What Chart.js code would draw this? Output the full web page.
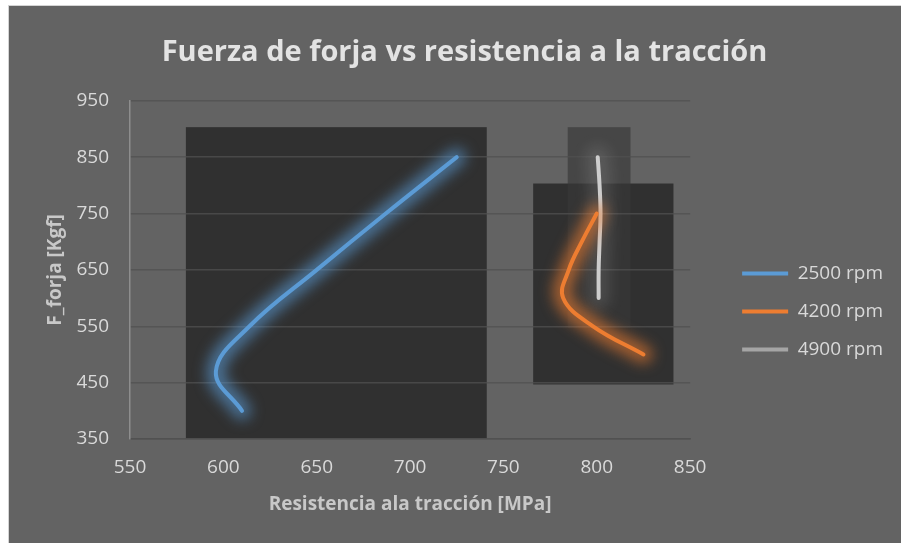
<!DOCTYPE html>
<html>
<head>
<meta charset="utf-8">
<script src="https://cdn.jsdelivr.net/npm/chart.js@4.4.0/dist/chart.umd.min.js"></script>
<style>
    body { margin: 0; background: #ffffff; }
    #wrap {
        position: absolute; left: 8px; top: 5px;
        width: 892px; height: 537px;
        background: #636363;
        border-left: 1px solid #d4d4d4; border-top: 1px solid #d4d4d4;
    }
</style>
</head>
<body>
<div id="wrap"><canvas id="forja" width="892" height="537"></canvas></div>
<script>
(function () {
    'use strict';

    // Resistencia a la traccion [MPa] (x) vs fuerza de forja [Kgf] (y)
    var rpm2500X = [610, 596, 614, 650, 687, 725];
    var rpm2500Y = [400, 470, 550, 650, 750, 850];

    var rpm4200X = [825, 798, 782, 785, 792, 800];
    var rpm4200Y = [500, 550, 600, 650, 700, 750];

    var rpm4900X = [801, 801, 801.5, 802, 801.5, 800.5];
    var rpm4900Y = [600, 650, 700, 750, 800, 850];

    var seriesNames = ['2500 rpm', '4200 rpm', '4900 rpm'];
    var xTicks = [550, 600, 650, 700, 750, 800, 850];
    var yTicks = [350, 450, 550, 650, 750, 850, 950];

    var lineColors = ['#5b9bd5', '#ed7d31', '#cdcdcd'];
    var legendColors = ['#5b9bd5', '#ed7d31', '#a5a5a5'];
    var glowColors = ['rgba(91,155,213,0.62)', 'rgba(237,125,49,0.62)', 'rgba(230,230,230,0.13)'];
    var glowWidths = [18, 18, 22];
    var boxColors = ['#303030', '#303030', 'rgba(57,57,57,0.67)'];

    var textColor = '#d9d9d9';
    var font = '"Open Sans", "DejaVu Sans", sans-serif';

    var legendShift = {x: 33, y: 37};
    var titleShift = 30;

    function points(xs, ys) {
        return xs.map(function (x, i) { return {x: x, y: ys[i]}; });
    }

    // dark box behind each series, padded around its points
    var seriesBoxes = {
        id: 'seriesBoxes',
        beforeDraw: function (chart) {
            var ctx = chart.ctx;
            var pad = 30;
            ctx.save();
            chart.data.datasets.forEach(function (ds, i) {
                var pts = chart.getDatasetMeta(i).data;
                var xs = pts.map(function (p) { return p.x; });
                var ys = pts.map(function (p) { return p.y; });
                var left = Math.min.apply(null, xs) - pad;
                var right = Math.max.apply(null, xs) + pad;
                var top = Math.min.apply(null, ys) - pad;
                var bottom = Math.min(Math.max.apply(null, ys) + pad, chart.chartArea.bottom);
                ctx.fillStyle = boxColors[i];
                ctx.fillRect(left, top, right - left, bottom - top);
            });
            ctx.restore();
        }
    };

    // soft glow: a blurred wide stroke under every line
    var lineGlow = {
        id: 'lineGlow',
        beforeDatasetDraw: function (chart, args) {
            var ctx = chart.ctx;
            var line = args.meta.dataset;
            ctx.save();
            ctx.filter = 'blur(7px)';
            ctx.strokeStyle = glowColors[args.index];
            ctx.lineWidth = glowWidths[args.index];
            ctx.lineCap = 'round';
            ctx.lineJoin = 'round';
            ctx.beginPath();
            line.path(ctx);
            ctx.stroke();
            ctx.restore();
        }
    };

    // legend and title nudged from their default spots
    var blockOffset = {
        id: 'blockOffset',
        afterLayout: function (chart) {
            var lg = chart.legend;
            lg.left += legendShift.x;
            lg.right += legendShift.x;
            lg.top += legendShift.y;
            lg.bottom += legendShift.y;
            chart.titleBlock.left += titleShift;
            chart.titleBlock.right += titleShift;
        }
    };

    var datasets = [
        points(rpm2500X, rpm2500Y),
        points(rpm4200X, rpm4200Y),
        points(rpm4900X, rpm4900Y)
    ].map(function (data, i) {
        return {
            label: seriesNames[i],
            data: data,
            showLine: true,
            borderColor: lineColors[i],
            backgroundColor: legendColors[i],
            borderWidth: 4,
            borderCapStyle: 'round',
            tension: 0.4,
            pointRadius: 0,
            pointHoverRadius: 0
        };
    });

    new Chart(document.getElementById('forja'), {
        type: 'scatter',
        data: {datasets: datasets},
        plugins: [seriesBoxes, lineGlow, blockOffset],
        options: {
            responsive: false,
            animation: false,
            layout: {padding: {left: 0, right: 41, top: 0, bottom: 0}},
            plugins: {
                tooltip: {enabled: false},
                title: {
                    display: true,
                    text: 'Fuerza de forja vs resistencia a la tracción',
                    color: '#e3e3e3',
                    font: {family: font, size: 29, weight: 'bold'},
                    padding: {top: 29, bottom: 31}
                },
                legend: {
                    position: 'right',
                    labels: {
                        color: textColor,
                        font: {family: font, size: 19},
                        usePointStyle: true,
                        pointStyle: 'line',
                        pointStyleWidth: 46,
                        boxHeight: 19,
                        padding: 19,
                        generateLabels: function (chart) {
                            return chart.data.datasets.map(function (ds, i) {
                                return {
                                    text: ds.label,
                                    strokeStyle: legendColors[i],
                                    fillStyle: legendColors[i],
                                    lineWidth: 4,
                                    pointStyle: 'line',
                                    fontColor: textColor,
                                    datasetIndex: i
                                };
                            });
                        }
                    }
                }
            },
            scales: {
                x: {
                    type: 'linear',
                    min: xTicks[0],
                    max: xTicks[xTicks.length - 1],
                    afterBuildTicks: function (scale) {
                        scale.ticks = xTicks.map(function (v) { return {value: v}; });
                    },
                    afterFit: function (scale) { scale.height = 104; },
                    grid: {display: false, drawTicks: false},
                    border: {display: true, color: 'rgba(80,80,80,0.75)', width: 1.5},
                    ticks: {color: textColor, font: {family: font, size: 19}, padding: 17},
                    title: {
                        display: true,
                        text: 'Resistencia ala tracción [MPa]',
                        color: '#c8c8c8',
                        font: {family: font, size: 19, weight: 'bold'},
                        padding: {top: 4, bottom: 27}
                    }
                },
                y: {
                    type: 'linear',
                    min: yTicks[0],
                    max: yTicks[yTicks.length - 1],
                    afterBuildTicks: function (scale) {
                        scale.ticks = yTicks.map(function (v) { return {value: v}; });
                    },
                    afterFit: function (scale) { scale.width = 121; },
                    grid: {color: 'rgba(80,80,80,0.75)', lineWidth: 1.5, drawTicks: false},
                    border: {display: true, color: '#8e8e8e', width: 1.5},
                    ticks: {color: textColor, font: {family: font, size: 19}, padding: 21},
                    title: {
                        display: true,
                        text: 'F_forja [Kgf]',
                        color: '#c8c8c8',
                        font: {family: font, size: 19, weight: 'bold'},
                        padding: {top: 35}
                    }
                }
            }
        }
    });
})();
</script>
</body>
</html>
